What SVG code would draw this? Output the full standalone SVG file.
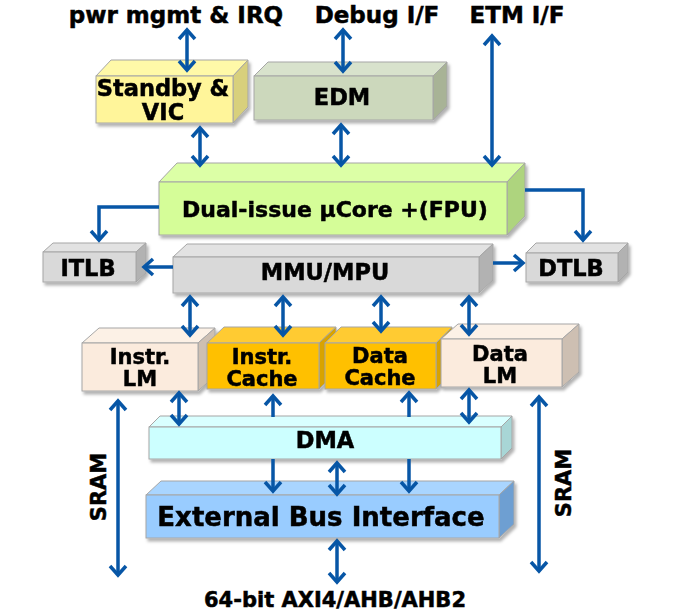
<svg xmlns="http://www.w3.org/2000/svg" width="680" height="615" viewBox="0 0 680 615">
<style>
text{font-family:"DejaVu Sans","Verdana",sans-serif;font-weight:bold;fill:#000;stroke:#000;stroke-width:0.5;text-anchor:middle}
.lbl{font-size:23px}
.bx{font-size:22.5px}
.b2{font-size:21px}
.f,.t,.s{stroke:#A6A6A6;stroke-width:1}
.cn{stroke:#0756A6;stroke-width:3.5;fill:none;marker-end:url(#ah)}
.bi{marker-start:url(#ah)}
</style>
<defs>
<filter id="sh" x="-10%" y="-10%" width="130%" height="140%">
<feDropShadow dx="2" dy="3" stdDeviation="1.8" flood-color="#000" flood-opacity="0.3"/>
</filter>
<marker id="ah" viewBox="-14 -12 28 24" markerWidth="28" markerHeight="24" refX="0" refY="0" markerUnits="userSpaceOnUse" orient="auto-start-reverse">
<path d="M-9,-8 L0,0 L-9,8" fill="none" stroke="#0756A6" stroke-width="3.5"/>
</marker>
</defs>
<rect width="680" height="615" fill="#fff"/>

<g id="labels">
<text class="lbl" x="176" y="23">pwr mgmt &amp; IRQ</text>
<text class="lbl" x="377" y="23">Debug I/F</text>
<text class="lbl" x="517" y="23">ETM I/F</text>
<text x="335" y="607" style="font-size:21px">64-bit AXI4/AHB/AHB2</text>
<text transform="translate(106,487) rotate(-90)" style="font-size:21px">SRAM</text>
<text transform="translate(571,483) rotate(-90)" style="font-size:21px">SRAM</text>
</g>

<g id="standby" filter="url(#sh)">
<polygon class="t" points="96,76 111,60 248,60 233,76" fill="#FFF9A8"/>
<polygon class="s" points="233,76 248,60 248,107 233,123" fill="#D8D07C"/>
<rect class="f" x="96" y="76" width="137" height="47" fill="#FFF59A"/>
<text class="bx" x="163" y="96">Standby &amp;</text>
<text class="bx" x="163" y="120">VIC</text>
</g>

<g id="edm" filter="url(#sh)">
<polygon class="t" points="254,76 268,62 447,62 433,76" fill="#D8E2CC"/>
<polygon class="s" points="433,76 447,62 447,106 433,120" fill="#A8B396"/>
<rect class="f" x="254" y="76" width="179" height="44" fill="#CCD8BC"/>
<text class="bx" x="342" y="105">EDM</text>
</g>

<g id="core" filter="url(#sh)">
<polygon class="t" points="159,182 177,163 525,163 507,182" fill="#DCFFA6"/>
<polygon class="s" points="507,182 525,163 525,216 507,235" fill="#AED47E"/>
<rect class="f" x="159" y="182" width="348" height="53" fill="#D5FD98"/>
<text class="bx" x="335" y="217" style="font-size:22px">Dual-issue µCore +(FPU)</text>
</g>

<g id="itlb" filter="url(#sh)">
<polygon class="t" points="43,252 53,243 146,243 136,252" fill="#E2E2E2"/>
<polygon class="s" points="136,252 146,243 146,273 136,282" fill="#B2B2B2"/>
<rect class="f" x="43" y="252" width="93" height="30" fill="#D9D9D9"/>
<text class="bx" x="88" y="276">ITLB</text>
</g>

<g id="mmu" filter="url(#sh)">
<polygon class="t" points="173,257 187,244 493,244 479,257" fill="#E2E2E2"/>
<polygon class="s" points="479,257 493,244 493,280 479,293" fill="#B2B2B2"/>
<rect class="f" x="173" y="257" width="306" height="36" fill="#D9D9D9"/>
<text class="bx" x="325" y="280">MMU/MPU</text>
</g>

<g id="dtlb" filter="url(#sh)">
<polygon class="t" points="526,253 536,243 628,243 618,253" fill="#E2E2E2"/>
<polygon class="s" points="618,253 628,243 628,272 618,282" fill="#B2B2B2"/>
<rect class="f" x="526" y="253" width="92" height="29" fill="#D9D9D9"/>
<text class="bx" x="571" y="276">DTLB</text>
</g>

<g id="ilm" filter="url(#sh)">
<polygon class="t" points="82,343 99,328 215,328 198,343" fill="#FCF1E6"/>
<polygon class="s" points="198,343 215,328 215,376 198,391" fill="#CDBFB2"/>
<rect class="f" x="82" y="343" width="116" height="48" fill="#FBEBDD"/>
<text class="b2" x="140" y="364">Instr.</text>
<text class="b2" x="140" y="386">LM</text>
</g>

<g id="icache" filter="url(#sh)">
<polygon class="t" points="207,343 224,327 336,327 319,343" fill="#FFCB33"/>
<polygon class="s" points="319,343 336,327 336,373 319,389" fill="#D9A300"/>
<rect class="f" x="207" y="343" width="112" height="46" fill="#FFC000"/>
<text class="b2" x="262" y="364">Instr.</text>
<text class="b2" x="262" y="386">Cache</text>
</g>

<g id="dcache" filter="url(#sh)">
<polygon class="t" points="325,343 341,327 452,327 436,343" fill="#FFCB33"/>
<polygon class="s" points="436,343 452,327 452,373 436,389" fill="#D9A300"/>
<rect class="f" x="325" y="343" width="111" height="46" fill="#FFC000"/>
<text class="b2" x="380" y="363">Data</text>
<text class="b2" x="380" y="385">Cache</text>
</g>

<g id="dlm" filter="url(#sh)">
<polygon class="t" points="441,339 458,324 579,324 562,339" fill="#FCF1E6"/>
<polygon class="s" points="562,339 579,324 579,372 562,387" fill="#CDBFB2"/>
<rect class="f" x="441" y="339" width="121" height="48" fill="#FBEBDD"/>
<text class="b2" x="500" y="361">Data</text>
<text class="b2" x="500" y="383">LM</text>
</g>

<g id="dma" filter="url(#sh)">
<polygon class="t" points="149,427 160,416 512,416 501,427" fill="#D9FFFF"/>
<polygon class="s" points="501,427 512,416 512,448 501,459" fill="#A8D6D6"/>
<rect class="f" x="149" y="427" width="352" height="32" fill="#CCFFFF"/>
<text class="bx" x="325" y="448">DMA</text>
</g>

<g id="ebi" filter="url(#sh)">
<polygon class="t" points="146,495 161,481 514,481 499,495" fill="#A9D5FF"/>
<polygon class="s" points="499,495 514,481 514,524 499,538" fill="#6E9FD2"/>
<rect class="f" x="146" y="495" width="353" height="43" fill="#99CCFF"/>
<text x="321" y="526" style="font-size:26px">External Bus Interface</text>
</g>

<g id="connectors">
<line class="cn bi" x1="187" y1="30" x2="187" y2="70"/>
<line class="cn bi" x1="343" y1="30" x2="343" y2="71"/>
<line class="cn bi" x1="492" y1="36" x2="492" y2="165"/>
<line class="cn bi" x1="200" y1="128" x2="200" y2="165"/>
<line class="cn bi" x1="341" y1="125" x2="341" y2="165"/>
<path class="cn" d="M159,207 H99 V240"/>
<path class="cn" d="M525,190 H583 V240"/>
<path class="cn" d="M173,267 H144"/>
<path class="cn" d="M493,263 H523"/>
<line class="cn bi" x1="190" y1="297" x2="190" y2="335"/>
<line class="cn bi" x1="283" y1="297" x2="283" y2="335"/>
<line class="cn bi" x1="381" y1="297" x2="381" y2="331"/>
<line class="cn bi" x1="469" y1="297" x2="469" y2="334"/>
<line class="cn bi" x1="179" y1="393" x2="179" y2="424"/>
<line class="cn" x1="273" y1="417" x2="273" y2="396"/>
<line class="cn" x1="409" y1="417" x2="409" y2="393"/>
<line class="cn bi" x1="469" y1="390" x2="469" y2="422"/>
<line class="cn bi" x1="118" y1="401" x2="118" y2="575"/>
<line class="cn bi" x1="539" y1="397" x2="539" y2="571"/>
<line class="cn" x1="273" y1="459" x2="273" y2="491"/>
<line class="cn bi" x1="337" y1="463" x2="337" y2="494"/>
<line class="cn" x1="409" y1="459" x2="409" y2="491"/>
<line class="cn bi" x1="337" y1="541" x2="337" y2="582"/>
</g>
</svg>
